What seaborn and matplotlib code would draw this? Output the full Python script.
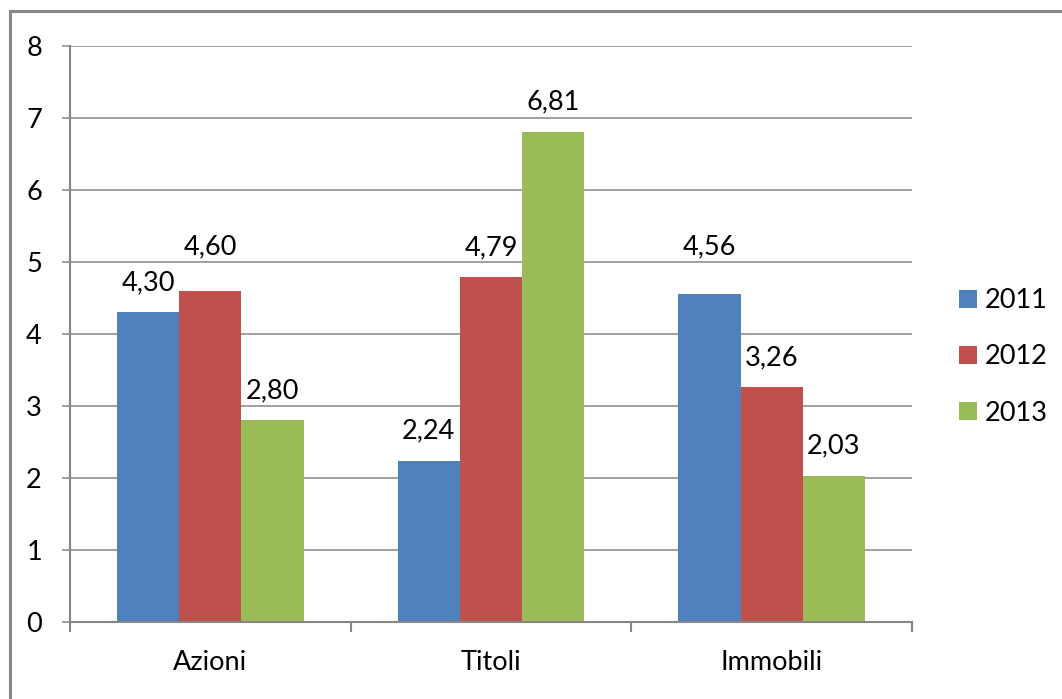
import numpy as np
import pandas as pd
import matplotlib
matplotlib.use("Agg")
import matplotlib.pyplot as plt
from matplotlib.patches import Rectangle
import seaborn as sns

# Data
categories = ["Azioni", "Titoli", "Immobili"]
years = ["2011", "2012", "2013"]
values_2011 = [4.30, 2.24, 4.56]
values_2012 = [4.60, 4.79, 3.26]
values_2013 = [2.80, 6.81, 2.03]
y_ticks = [0, 1, 2, 3, 4, 5, 6, 7, 8]

series = {"2011": values_2011, "2012": values_2012, "2013": values_2013}
df = pd.DataFrame(
    [(cat, yr, series[yr][i]) for yr in years for i, cat in enumerate(categories)],
    columns=["Categoria", "Anno", "Valore"],
)

palette = {"2011": "#4F81BD", "2012": "#C0504D", "2013": "#9BBB59"}
axis_grey = "#868686"

plt.rcParams["font.family"] = ["Lato", "DejaVu Sans"]
FS = 19.5

W, H = 1062, 699
fig = plt.figure(figsize=(W / 100, H / 100), dpi=100)
fig.patch.set_facecolor("white")
ax = fig.add_axes([70 / W, 1 - 622 / H, 842 / W, 576 / H])

sns.barplot(
    data=df, x="Categoria", y="Valore", hue="Anno", order=categories,
    hue_order=years, palette=palette, width=0.664, gap=0, saturation=1,
    errorbar=None, ax=ax, linewidth=0,
)

handles, labels = ax.get_legend_handles_labels()
if ax.get_legend() is not None:
    ax.get_legend().remove()

ax.set_xlim(-0.5, len(categories) - 0.5)
ax.set_ylim(0, 8)
ax.set_yticks(y_ticks)
ax.set_yticklabels([str(t) for t in y_ticks])
ax.set_xlabel("")
ax.set_ylabel("")

# Axes styling
ax.set_axisbelow(True)
ax.yaxis.grid(True, color=axis_grey, linewidth=1.1)
ax.xaxis.grid(False)
for side in ("top", "right"):
    ax.spines[side].set_visible(False)
for side in ("left", "bottom"):
    ax.spines[side].set_color(axis_grey)
    ax.spines[side].set_linewidth(1.5)

ax.tick_params(axis="y", direction="out", length=5.8, width=1.1, color=axis_grey,
               pad=14.4, labelsize=FS, labelcolor="black")
ax.tick_params(axis="x", which="major", length=0, pad=20.5, labelsize=FS,
               labelcolor="black")
ax.set_xticks(np.arange(-0.5, len(categories)), minor=True)
ax.tick_params(axis="x", which="minor", direction="out", length=7.2, width=1.5,
               color=axis_grey)

# Value labels; two labels are nudged up to sit clear of the gridline at 5
nudge_pts = {("Azioni", "2012"): 10, ("Immobili", "2011"): 12}
for j, yr in enumerate(years):
    container = ax.containers[j]
    for i, (bar, val) in enumerate(zip(container, series[yr])):
        x = bar.get_x() + bar.get_width() / 2
        off = 16 + nudge_pts.get((categories[i], yr), 0)
        ax.annotate(f"{val:.2f}".replace(".", ","), xy=(x, val),
                    xytext=(0, off), textcoords="offset points",
                    ha="center", va="baseline", fontsize=FS, color="black")

# Legend on the right
fig.legend(handles, labels, loc="center left",
           bbox_to_anchor=(959 / W, 1 - 357 / H), frameon=False,
           fontsize=FS, handlelength=0.68, handleheight=0.68,
           handletextpad=0.28, labelspacing=1.15, borderpad=0,
           borderaxespad=0)

# Outer chart border
fig.add_artist(Rectangle((9.5 / W, -0.2), 1.5, 1 - 10.5 / H + 0.2,
                         transform=fig.transFigure, fill=False,
                         edgecolor="#878787", linewidth=2.2))

fig.savefig("out.png", dpi=100)
